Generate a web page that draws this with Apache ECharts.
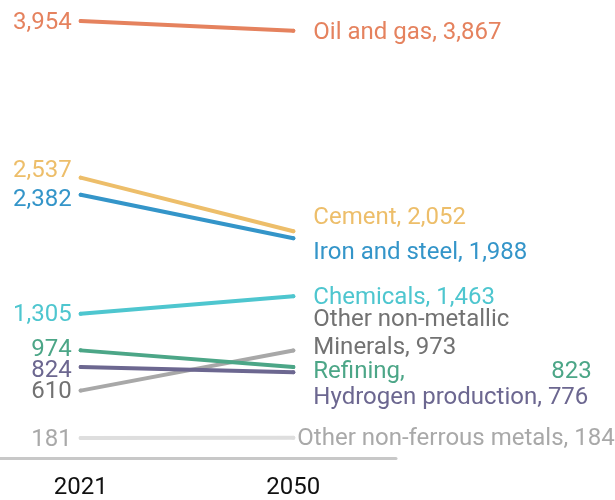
<!DOCTYPE html>
<html>
<head>
<meta charset="utf-8">
<script src="https://cdn.jsdelivr.net/npm/echarts@6/dist/echarts.min.js"></script>
<style>
  html, body { margin: 0; padding: 0; background: #fff; }
  #chart { width: 615px; height: 500px; }
</style>
</head>
<body>
<div id="chart"></div>
<script>
// ---- data ----
const years = [2021, 2050];
const xTickLabels = [2021, 2050];
const sectors = ['Oil and gas', 'Cement', 'Iron and steel', 'Chemicals',
  'Other non-metallic\nMinerals', 'Other non-ferrous metals', 'Refining', 'Hydrogen production'];
const values2021 = [3954, 2537, 2382, 1305, 610, 181, 974, 824];
const values2050 = [3867, 2052, 1988, 1463, 973, 184, 823, 776];

// ---- styles (not data) ----
const lineColors  = ['#E5825E', '#EDBE6A', '#3495C9', '#4EC6CF', '#A8A8A8', '#DEDEDE', '#4CA687', '#6C6790'];
const labelColors = ['#E5825E', '#EDBE6A', '#3495C9', '#4EC6CF', '#727272', '#A9A9A9', '#4CA687', '#6C6790'];
const leftOffsetY  = [2, -6.5, 5, 1, 1.5, 2, 0, 4.5];
const rightOffsetY = [2, -13.5, 15, 2, -16, 1.5, 5, 25.5];
const rightDist    = [18, 18, 18, 18, 18, 2, 18, 18];

const fmt = v => v.toLocaleString('en-US');
const FONT = 'Roboto';

const series = sectors.map((name, i) => {
  const rightLabel = {
    show: true,
    position: 'right',
    distance: rightDist[i],
    offset: [0, rightOffsetY[i]],
    color: labelColors[i],
    fontFamily: FONT,
    fontSize: 24,
    lineHeight: 28,
    formatter: name + ', ' + fmt(values2050[i])
  };
  if (name === 'Refining') {
    rightLabel.formatter = '{n|' + name + ',}{v|' + fmt(values2050[i]) + '}';
    rightLabel.rich = {
      n: { width: 238, color: labelColors[i], fontFamily: FONT, fontSize: 24 },
      v: { color: labelColors[i], fontFamily: FONT, fontSize: 24 }
    };
  }
  return {
    type: 'line',
    name: name,
    symbol: 'circle',
    symbolSize: 4,
    showSymbol: true,
    itemStyle: { color: lineColors[i] },
    lineStyle: { color: lineColors[i], width: 4, cap: 'round' },
    emphasis: { disabled: true },
    silent: true,
    animation: false,
    data: [
      {
        value: [years[0], values2021[i]],
        label: {
          show: true,
          position: 'left',
          distance: 7,
          offset: [0, leftOffsetY[i]],
          color: labelColors[i],
          fontFamily: FONT,
          fontSize: 24,
          formatter: fmt(values2021[i])
        }
      },
      {
        value: [years[1], values2050[i]],
        label: rightLabel
      }
    ]
  };
});

const chart = echarts.init(document.getElementById('chart'), null, { renderer: 'canvas' });
chart.setOption({
  animation: false,
  backgroundColor: '#ffffff',
  grid: { left: 0, right: 219, top: 16, bottom: 38, containLabel: false },
  xAxis: {
    type: 'value',
    min: 2010,
    max: 2064,
    splitLine: { show: false },
    axisTick: { show: false },
    axisLine: { show: true, onZero: false, lineStyle: { color: '#C8C8C8', width: 3 } },
    axisLabel: {
      customValues: xTickLabels,
      formatter: v => String(v),
      color: '#111111',
      fontFamily: FONT,
      fontSize: 24,
      margin: 18
    }
  },
  yAxis: {
    type: 'value',
    min: 0,
    max: 4000,
    show: false,
    splitLine: { show: false }
  },
  series: series
});
</script>
</body>
</html>
